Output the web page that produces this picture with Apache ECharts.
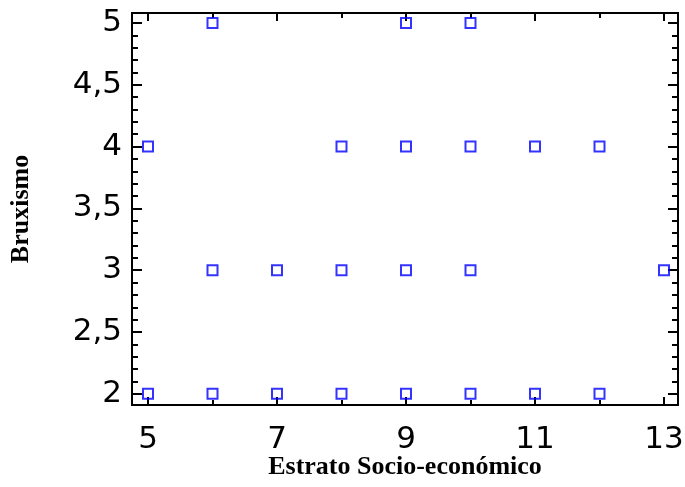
<!DOCTYPE html>
<html>
<head>
<meta charset="utf-8">
<script src="https://cdn.jsdelivr.net/npm/echarts@6/dist/echarts.min.js"></script>
<style>html,body{margin:0;padding:0;background:#fff}#c{width:685px;height:487px}</style>
</head>
<body>
<div id="c"></div>
<script>
var xValues = [6, 9, 10, 5, 8, 9, 10, 11, 12, 6, 7, 8, 9, 10, 13, 5, 6, 7, 8, 9, 10, 11, 12];
var yValues = [5, 5, 5, 4, 4, 4, 4, 4, 4, 3, 3, 3, 3, 3, 3, 2, 2, 2, 2, 2, 2, 2, 2];
var xMajorTicks = [5, 7, 9, 11, 13];
var xMinorTicks = [6, 8, 10, 12];
var yMajorTicks = [2, 2.5, 3, 3.5, 4, 4.5, 5];
var yMinorTicks = [2.1, 2.2, 2.3, 2.4, 2.6, 2.7, 2.8, 2.9, 3.1, 3.2, 3.3, 3.4, 3.6, 3.7, 3.8, 3.9, 4.1, 4.2, 4.3, 4.4, 4.6, 4.7, 4.8, 4.9];
var xTitle = 'Estrato Socio-económico';
var yTitle = 'Bruxismo';

var points = xValues.map(function (x, i) { return [x, yValues[i]]; });
var XMIN = 4.752, XMAX = 13.217, YMIN = 1.91, YMAX = 5.08;

function xAx(pos, ticks, len, opts) {
  var a = {
    type: 'value', position: pos, min: XMIN, max: XMAX,
    axisLine: {show: true, onZero: false, lineStyle: {color: '#000', width: 2}},
    axisTick: {show: true, inside: true, length: len, customValues: ticks, lineStyle: {color: '#000', width: 2}},
    axisLabel: {show: false},
    splitLine: {show: false}
  };
  return Object.assign(a, opts || {});
}
function yAx(pos, ticks, len, opts) {
  var a = {
    type: 'value', position: pos, min: YMIN, max: YMAX,
    axisLine: {show: true, onZero: false, lineStyle: {color: '#000', width: 2}},
    axisTick: {show: true, inside: true, length: len, customValues: ticks, lineStyle: {color: '#000', width: 2}},
    axisLabel: {show: false},
    splitLine: {show: false}
  };
  return Object.assign(a, opts || {});
}

var chart = echarts.init(document.getElementById('c'));
chart.setOption({
  animation: false,
  backgroundColor: '#fff',
  grid: {left: 132, top: 13, right: 7, bottom: 82, containLabel: false, outerBoundsMode: 'none'},
  xAxis: [
    xAx('bottom', xMajorTicks, 8, {
      axisLabel: {show: true, customValues: xMajorTicks, margin: 19, color: '#000', fontSize: 31, fontFamily: 'DejaVu Sans'},
      name: xTitle, nameLocation: 'middle', nameGap: 49, nameMoveOverlap: false,
      nameTextStyle: {color: '#000', fontSize: 26, fontWeight: 'bold', fontFamily: 'Liberation Serif'}
    }),
    xAx('bottom', xMinorTicks, 5),
    xAx('top', xMajorTicks, 8),
    xAx('top', xMinorTicks, 5)
  ],
  yAxis: [
    yAx('left', yMajorTicks, 10, {
      axisLabel: {show: true, customValues: yMajorTicks, margin: 10, color: '#000', fontSize: 31, fontFamily: 'DejaVu Sans',
        formatter: function (v) { return String(v).replace('.', ','); }},
      name: yTitle, nameLocation: 'middle', nameGap: 98, nameRotate: 90, nameMoveOverlap: false,
      nameTextStyle: {color: '#000', fontSize: 26, fontWeight: 'bold', fontFamily: 'Liberation Serif'}
    }),
    yAx('left', yMinorTicks, 6),
    yAx('right', yMajorTicks, 10),
    yAx('right', yMinorTicks, 6)
  ],
  series: [{
    type: 'scatter', xAxisIndex: 0, yAxisIndex: 0,
    data: points, symbol: 'rect', symbolSize: 10,
    itemStyle: {color: 'rgba(0,0,0,0)', borderColor: '#0000ff', borderWidth: 2},
    emphasis: {disabled: true}
  }]
});
</script>
</body>
</html>
